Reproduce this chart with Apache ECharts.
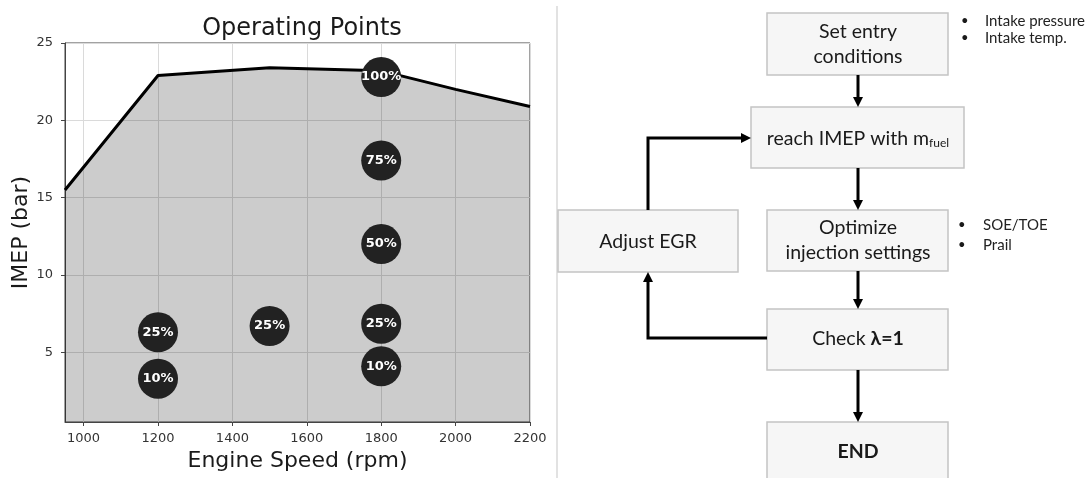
<!DOCTYPE html>
<html>
<head>
<meta charset="utf-8">
<script src="https://cdn.jsdelivr.net/npm/echarts@6/dist/echarts.min.js"></script>
<style>
  html, body { margin: 0; padding: 0; background: #fff; }
  #main { width: 1089px; height: 478px; }
</style>
</head>
<body>
<div id="main"></div>
<script>
// Full-load boundary of the engine map
const speedRpm = [950, 1200, 1500, 1800, 2000, 2200];
const maxImep = [15.5, 22.9, 23.4, 23.2, 22.0, 20.9];

// Measured operating points and their load fraction
const pointSpeed = [1200, 1200, 1500, 1800, 1800, 1800, 1800, 1800];
const pointImep = [6.3, 3.3, 6.7, 6.85, 4.1, 12.0, 17.4, 22.8];
const pointLoad = ['25%', '10%', '25%', '25%', '10%', '50%', '75%', '100%'];

// Axis tick labels
const xTicks = [1000, 1200, 1400, 1600, 1800, 2000, 2200];
const yTicks = [5, 10, 15, 20, 25];

// Calibration procedure steps
const stepSetEntry = ['Set entry', 'conditions'];
const stepReach = 'reach IMEP with m{sub|fuel}';
const stepOptimize = ['Optimize', 'injection settings'];
const stepCheck = 'Check {b|λ=1}';
const stepEnd = 'END';
const stepEgr = 'Adjust EGR';
const notesEntry = ['Intake pressure', 'Intake temp.'];
const notesInjection = ['SOE/TOE', 'Prail'];

const boundary = speedRpm.map((s, i) => [s, maxImep[i]]);
const points = pointSpeed.map((s, i) => [s, pointImep[i], pointLoad[i]]);

const flowFont = 'Lato, "Open Sans", sans-serif';
const boxStyle = { fill: '#f6f6f6', stroke: '#c4c4c4', lineWidth: 1.5 };
const arrowStyle = { stroke: '#000', lineWidth: 3, fill: null };
const boxFont = 19.5;

function box(x, y, w, h) {
  return { type: 'rect', shape: { x: x, y: y, width: w, height: h }, style: boxStyle, z: 10 };
}
function label(text, x, y, size, extra) {
  return {
    type: 'text', z: 20,
    style: Object.assign({
      text: text, x: x, y: y, fill: '#1a1a1a',
      fontSize: size, fontFamily: flowFont,
      align: 'center', verticalAlign: 'middle',
      textAlign: 'center', textVerticalAlign: 'middle'
    }, extra || {})
  };
}
function line(points) {
  return { type: 'polyline', shape: { points: points }, style: arrowStyle, z: 15 };
}
function head(x, y, dir) {
  // dir: 'down' | 'up' | 'right'
  let pts;
  if (dir === 'down') pts = [[x - 5, y - 10], [x + 5, y - 10], [x, y]];
  else if (dir === 'up') pts = [[x - 5, y + 10], [x + 5, y + 10], [x, y]];
  else pts = [[x - 10, y - 5], [x - 10, y + 5], [x, y]];
  return { type: 'polygon', shape: { points: pts }, style: { fill: '#000' }, z: 16 };
}
function bullets(items, bx, tx, y, step) {
  const out = [];
  items.forEach((t, i) => {
    out.push(label('•', bx, y + i * step, 13, { align: 'left', textAlign: 'left' }));
    out.push(label(t, tx, y + i * step, 15, { align: 'left', textAlign: 'left', fill: '#222' }));
  });
  return out;
}

const cx = 858;
const flow = [
  // divider between the two panels
  { type: 'line', shape: { x1: 557, y1: 6, x2: 557, y2: 478 }, style: { stroke: '#d8d8d8', lineWidth: 1.5 }, z: 5 },

  box(767, 13, 181, 62),
  box(751, 107, 213, 61),
  box(767, 210, 181, 61),
  box(767, 309, 181, 61),
  box(767, 422, 181, 60),
  box(558, 210, 180, 62),

  label(stepSetEntry[0], cx, 32, boxFont),
  label(stepSetEntry[1], cx, 57, boxFont),
  label(stepReach, cx, 139, boxFont, { rich: { sub: { fontSize: 12, fontFamily: flowFont, fill: '#1a1a1a', padding: [9, 0, 0, 0] } } }),
  label(stepOptimize[0], cx, 228, boxFont),
  label(stepOptimize[1], cx, 253, boxFont),
  label(stepCheck, cx, 339, boxFont, { rich: { b: { fontSize: boxFont, fontWeight: 'bold', fontFamily: flowFont, fill: '#1a1a1a' } } }),
  label(stepEnd, cx, 452, boxFont, { fontWeight: 'bold' }),
  label(stepEgr, 648, 242, boxFont),

  line([[cx, 75], [cx, 100]]), head(cx, 107, 'down'),
  line([[cx, 168], [cx, 203]]), head(cx, 210, 'down'),
  line([[cx, 271], [cx, 302]]), head(cx, 309, 'down'),
  line([[cx, 370], [cx, 415]]), head(cx, 422, 'down'),
  line([[767, 338], [648, 338], [648, 280]]), head(648, 272, 'up'),
  line([[648, 210], [648, 138], [743, 138]]), head(751, 138, 'right')
].concat(bullets(notesEntry, 961, 985, 21, 17), bullets(notesInjection, 958, 983, 225, 20));

const chart = echarts.init(document.getElementById('main'), null, { renderer: 'canvas' });
chart.setOption({
  animation: false,
  backgroundColor: '#fff',
  title: {
    text: 'Operating Points',
    left: 297, top: 12, textAlign: 'center',
    textStyle: { fontFamily: 'DejaVu Sans', fontSize: 24, fontWeight: 'normal', color: '#1a1a1a' }
  },
  grid: {
    left: 65, top: 43, width: 465, height: 379,
    show: true, borderColor: '#444', borderWidth: 1, backgroundColor: 'transparent'
  },
  xAxis: {
    type: 'value', min: 950, max: 2200,
    name: 'Engine Speed (rpm)', nameLocation: 'middle', nameGap: 26,
    nameTextStyle: { fontFamily: 'DejaVu Sans', fontSize: 22, color: '#1a1a1a' },
    axisLine: { show: true, lineStyle: { color: '#444', width: 1 } },
    axisTick: { show: true, length: 4, customValues: xTicks, lineStyle: { color: '#444' } },
    axisLabel: { customValues: xTicks, margin: 10, formatter: v => String(v), fontFamily: 'DejaVu Sans', fontSize: 13, color: '#333' },
    splitLine: { show: true, lineStyle: { color: '#dadada', width: 1 } }
  },
  yAxis: {
    type: 'value', min: 0.5, max: 25,
    name: 'IMEP (bar)', nameLocation: 'middle', nameGap: 31, nameRotate: 90,
    nameTextStyle: { fontFamily: 'DejaVu Sans', fontSize: 22, color: '#1a1a1a' },
    axisLine: { show: true, lineStyle: { color: '#444', width: 1 } },
    axisTick: { show: true, length: 4, customValues: yTicks, lineStyle: { color: '#444' } },
    axisLabel: { customValues: yTicks, margin: 12, formatter: v => String(v), fontFamily: 'DejaVu Sans', fontSize: 13, color: '#333' },
    splitLine: { show: true, lineStyle: { color: '#dadada', width: 1 } }
  },
  series: [
    {
      type: 'line', data: boundary, showSymbol: false, symbol: 'none',
      lineStyle: { color: '#000', width: 3 },
      areaStyle: { color: 'rgba(0,0,0,0.2)', opacity: 1, origin: 'start' },
      z: 2
    },
    {
      type: 'scatter', data: points, symbolSize: 40,
      itemStyle: { color: '#222', opacity: 1 },
      label: {
        show: true, position: 'inside',
        formatter: p => p.value[2],
        color: '#fff', fontFamily: 'DejaVu Sans', fontWeight: 'bold', fontSize: 13
      },
      z: 3
    }
  ],
  graphic: flow
});
</script>
</body>
</html>
